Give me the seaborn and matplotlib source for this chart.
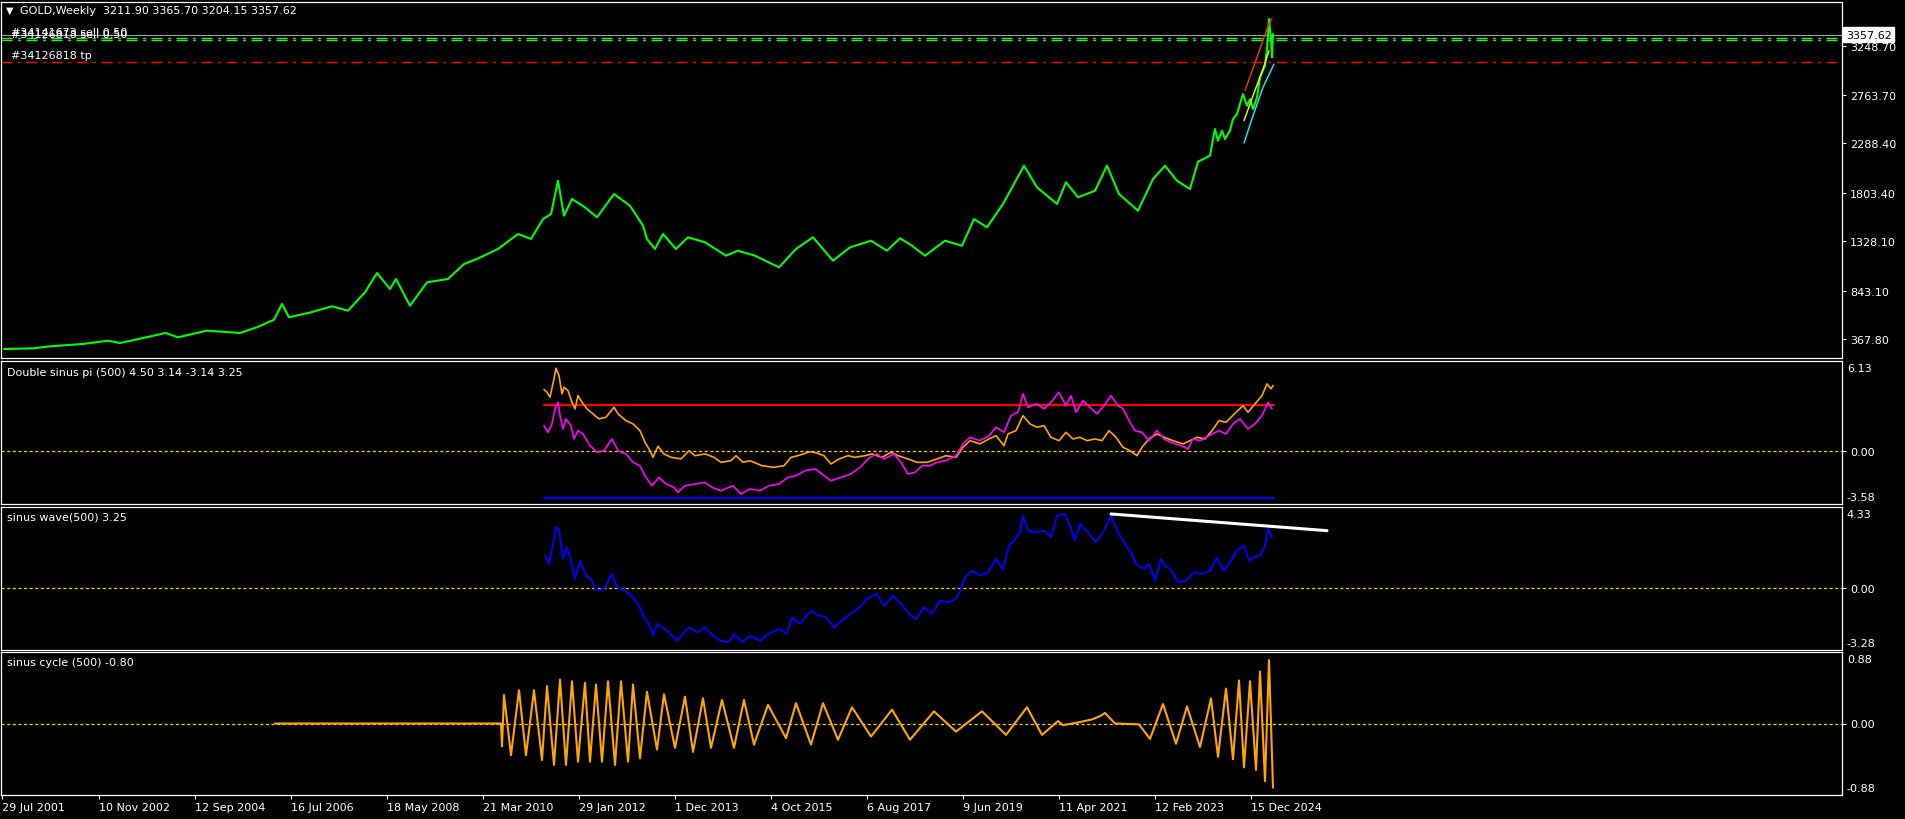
import matplotlib
matplotlib.use("Agg")
import matplotlib.pyplot as plt
import seaborn as sns
from matplotlib.transforms import blended_transform_factory

W, H = 1905, 820

# ---------------- data (bar index -> value) ----------------
price_idx = [2, 31, 48, 81, 106, 118, 164, 176, 205, 238, 255, 272, 280, 287, 309, 330, 346, 363, 375, 388,
             394, 408, 425, 446, 462, 475, 496, 516, 529, 541, 549, 556, 562, 570, 583, 595, 612, 628, 641, 645,
             653, 661, 674, 686, 703, 724, 736, 753, 777, 794, 811, 831, 848, 869, 885, 898, 910, 923, 943, 960,
             972, 985, 1001, 1022, 1035, 1055, 1064, 1076, 1093, 1105, 1117, 1136, 1151, 1163, 1175, 1188, 1196,
             1208, 1211, 1213, 1216, 1220, 1223, 1228, 1231, 1235, 1238, 1241, 1245, 1248, 1251, 1255, 1258, 1263,
             1265, 1267, 1269, 1270, 1271]
price_val = [270, 276, 296, 319, 351, 328, 427, 384, 450, 427, 483, 557, 712, 581, 630, 689, 646, 826, 1016, 859,
             957, 695, 925, 957, 1104, 1154, 1252, 1399, 1350, 1546, 1595, 1922, 1579, 1743, 1661, 1563, 1792, 1677, 1481, 1350,
             1252, 1399, 1252, 1367, 1318, 1186, 1235, 1186, 1072, 1252, 1367, 1137, 1268, 1333, 1235, 1357, 1284, 1186, 1333, 1284,
             1546, 1465, 1694, 2070, 1858, 1694, 1907, 1760, 1824, 2070, 1792, 1628, 1939, 2070, 1922, 1841, 2110,
             2168, 2332, 2430, 2315, 2414, 2332, 2414, 2529, 2578, 2676, 2774, 2659, 2725, 2627, 2741, 2938, 3052,
             3216, 3511, 3314, 3134, 3363]

red_trend_idx = [1243, 1255, 1265, 1270]
red_trend_val = [2807, 3135, 3413, 3518]
yel_trend_idx = [1242, 1251, 1261, 1267]
yel_trend_val = [2512, 2757, 3020, 3199]
cyan_trend_idx = [1242, 1251, 1261, 1272]
cyan_trend_val = [2293, 2561, 2840, 3069]

last_price = 3357.62
order_levels_sell = [3327, 3301]
order_level_tp = 3088

orange_idx = [542, 545, 548, 552, 554, 557, 560, 562, 566, 570, 573, 576, 580, 585, 593, 597, 604, 612, 616, 624,
              631, 638, 643, 648, 651, 656, 662, 669, 679, 687, 693, 703, 712, 719, 729, 734, 741, 748, 760, 772,
              782, 789, 796, 808, 815, 822, 829, 837, 846, 853, 863, 870, 880, 889, 896, 906, 915, 925, 935, 944,
              954, 961, 968, 978, 987, 994, 1002, 1006, 1014, 1021, 1028, 1035, 1042, 1049, 1057, 1064, 1071, 1078,
              1085, 1093, 1100, 1107, 1114, 1121, 1128, 1135, 1140, 1147, 1155, 1162, 1171, 1181, 1188, 1195, 1203,
              1210, 1217, 1224, 1234, 1241, 1246, 1253, 1260, 1265, 1269, 1271]
orange_val = [4.19, 4.01, 3.67, 4.92, 5.64, 5.14, 3.90, 4.35, 4.12, 3.33, 2.88, 3.78, 3.33, 2.88, 2.42, 2.20, 2.31, 2.99, 2.54, 2.08,
              1.86, 1.40, 0.61, 0.04, -0.41, 0.34, -0.18, -0.41, -0.52, 0.04, -0.30, -0.18, -0.41, -0.75, -0.64, -0.30, -0.75, -0.64, -0.98, -1.09,
              -0.98, -0.41, -0.30, -0.03, -0.12, -0.30, -0.86, -0.52, -0.30, -0.41, -0.30, -0.18, -0.41, -0.07, -0.30, -0.52, -0.75, -0.75, -0.52, -0.30,
              -0.41, 0.27, 0.72, 0.50, 0.84, 1.06, 0.38, 1.18, 1.40, 2.42, 1.86, 1.63, 1.74, 0.95, 0.72, 1.29, 0.84, 0.95,
              0.72, 0.84, 0.72, 1.40, 0.95, 0.27, 0.04, -0.30, 0.27, 0.84, 1.18, 0.95, 0.72, 0.50, 0.72, 0.95, 0.84,
              1.40, 2.08, 1.97, 2.65, 3.10, 2.65, 3.22, 3.78, 4.58, 4.24, 4.46]

magenta_idx = [542, 546, 550, 553, 556, 558, 561, 564, 569, 572, 576, 581, 588, 595, 602, 610, 616, 624, 631, 638,
               643, 650, 657, 664, 672, 676, 683, 693, 703, 710, 719, 731, 739, 748, 758, 767, 777, 786, 794, 803,
               813, 820, 829, 839, 849, 858, 868, 875, 882, 892, 899, 906, 913, 920, 928, 935, 944, 954, 961, 968,
               978, 987, 994, 1002, 1009, 1016, 1021, 1026, 1035, 1042, 1049, 1057, 1064, 1069, 1074, 1081, 1088,
               1095, 1102, 1109, 1116, 1121, 1128, 1133, 1140, 1147, 1155, 1162, 1169, 1179, 1186, 1191, 1198, 1207,
               1217, 1224, 1231, 1238, 1246, 1253, 1260, 1266, 1270]
magenta_val = [1.74, 1.29, 1.86, 2.88, 3.33, 2.42, 1.52, 2.20, 1.74, 0.84, 1.40, 1.18, 0.38, -0.07, 0.04, 0.84, 0.04, -0.18, -0.75, -0.98,
               -1.66, -2.34, -1.77, -2.22, -2.45, -2.79, -2.34, -2.22, -2.11, -2.45, -2.68, -2.34, -2.90, -2.56, -2.68, -2.34, -2.22, -1.77, -1.66, -1.32,
               -1.20, -1.54, -2.00, -1.77, -1.54, -1.09, -0.41, -0.18, -0.52, -0.18, -0.75, -1.54, -1.43, -0.98, -0.98, -0.75, -0.64, -0.30, 0.50, 0.95,
               0.72, 1.06, 1.63, 1.29, 2.42, 2.65, 3.90, 2.99, 3.22, 2.88, 3.33, 4.01, 3.10, 3.78, 2.65, 3.44, 2.99,
               2.54, 3.10, 3.78, 3.10, 2.88, 1.97, 1.40, 1.29, 0.72, 1.40, 0.84, 0.61, 0.38, 0.16, 0.84, 0.72, 1.06,
               1.40, 1.18, 1.86, 2.20, 1.52, 1.86, 2.42, 3.33, 2.88]

level_upper = 3.14
level_lower = -3.14
level_span = [542, 1272]

wave_idx = [543, 547, 550, 554, 557, 561, 565, 569, 573, 578, 584, 589, 594, 602, 610, 615, 623, 631, 637, 642,
            647, 651, 655, 660, 667, 675, 682, 687, 695, 703, 711, 718, 727, 732, 740, 748, 758, 766, 777, 785,
            790, 798, 809, 817, 824, 832, 840, 848, 856, 867, 875, 882, 891, 899, 907, 914, 922, 930, 938, 946,
            954, 959, 963, 970, 978, 986, 994, 1001, 1007, 1012, 1018, 1021, 1026, 1034, 1042, 1049, 1055, 1063,
            1068, 1073, 1078, 1086, 1094, 1102, 1109, 1116, 1124, 1129, 1134, 1142, 1147, 1153, 1159, 1163, 1170,
            1176, 1184, 1192, 1200, 1208, 1215, 1222, 1229, 1235, 1242, 1247, 1252, 1258, 1263, 1266, 1270]
wave_val = [1.74, 1.30, 2.10, 3.25, 3.16, 1.56, 2.19, 1.47, 0.50, 1.47, 0.68, 0.50, -0.12, -0.03, 0.77, 0.06, -0.12, -0.47, -0.92, -1.54,
            -1.89, -2.52, -1.89, -2.07, -2.34, -2.78, -2.34, -2.07, -2.34, -2.07, -2.52, -2.78, -2.87, -2.43, -2.87, -2.52, -2.78, -2.43, -2.16, -2.43,
            -1.54, -1.89, -1.19, -1.45, -1.54, -2.07, -1.72, -1.36, -1.10, -0.47, -0.30, -0.92, -0.39, -0.83, -1.36, -1.63, -1.01, -1.36, -0.65, -0.74,
            -0.56, -0.03, 0.59, 0.94, 0.68, 0.86, 1.56, 1.03, 2.27, 2.54, 2.98, 3.87, 3.07, 2.98, 3.07, 2.72, 3.87, 3.96,
            3.34, 2.54, 3.43, 2.98, 2.45, 3.07, 3.87, 2.98, 2.27, 1.92, 1.30, 1.03, 1.30, 0.41, 1.56, 1.21, 0.94,
            0.32, 0.41, 0.86, 0.77, 0.94, 1.65, 0.94, 1.47, 2.01, 2.27, 1.47, 1.65, 1.74, 2.27, 3.16, 2.72]

wave_trend_idx = [1109, 1325]
wave_trend_val = [3.96, 3.07]

cycle_idx = [273, 499, 500, 502, 509, 517, 524, 532, 540, 545, 552, 558, 564, 570, 576, 583, 588, 594, 600, 606,
             613, 619, 626, 631, 638, 645, 655, 662, 673, 683, 691, 701, 709, 720, 732, 742, 752, 766, 784, 794,
             809, 821, 836, 850, 869, 890, 908, 932, 954, 980, 1004, 1025, 1040, 1056, 1061, 1075, 1090, 1098,
             1103, 1113, 1137, 1148, 1161, 1174, 1185, 1198, 1209, 1216, 1224, 1231, 1237, 1242, 1248, 1254,
             1258, 1263, 1267, 1271]
cycle_val = [0.0, 0.0, -0.28, 0.35, -0.39, 0.41, -0.39, 0.41, -0.45, 0.46, -0.51, 0.54, -0.51, 0.52, -0.47, 0.50, -0.47, 0.48, -0.47, 0.52,
             -0.51, 0.52, -0.47, 0.48, -0.43, 0.39, -0.32, 0.36, -0.30, 0.33, -0.35, 0.31, -0.30, 0.29, -0.30, 0.29, -0.26, 0.23, -0.18, 0.25,
             -0.26, 0.25, -0.20, 0.20, -0.16, 0.17, -0.20, 0.15, -0.10, 0.15, -0.14, 0.20, -0.14, 0.03, -0.02, 0.01, 0.05, 0.09,
             0.13, 0.0, -0.01, -0.19, 0.24, -0.25, 0.21, -0.29, 0.31, -0.41, 0.43, -0.44, 0.53, -0.54, 0.52, -0.57,
             0.64, -0.71, 0.78, -0.79]

date_tick_idx = [0, 97, 193, 289, 385, 481, 577, 673, 769, 865, 961, 1057, 1153, 1249]
date_tick_labels = ["29 Jul 2001", "10 Nov 2002", "12 Sep 2004", "16 Jul 2006", "18 May 2008", "21 Mar 2010",
                    "29 Jan 2012", "1 Dec 2013", "4 Oct 2015", "6 Aug 2017", "9 Jun 2019", "11 Apr 2021",
                    "12 Feb 2023", "15 Dec 2024"]
price_ticks = [367.80, 843.10, 1328.10, 1803.40, 2288.40, 2763.70, 3248.70]

panel_ranges = {"main": (178.2, 3681.0), "dsp": (-3.58, 6.13), "wave": (-3.28, 4.33), "cycle": (-0.88, 0.88)}

# ---------------- style ----------------
sns.set_style("dark", {"axes.facecolor": "black", "figure.facecolor": "black"})
plt.rcParams["font.family"] = ["DejaVu Sans"]

fig = plt.figure(figsize=(W / 100, H / 100), dpi=100, facecolor="black")
XMIN, XMAX = -1, 1839.7


def px_axes(top, bottom, left=1.0, right=1841.7):
    return fig.add_axes([left / W, 1 - bottom / H, (right - left) / W, (bottom - top) / H])


def ftext(x, y, s, **kw):
    kw.setdefault("color", "white")
    kw.setdefault("fontsize", 8)
    kw.setdefault("va", "center")
    kw.setdefault("ha", "left")
    fig.text(x / W, 1 - y / H, s, **kw)


ax1 = px_axes(2.7, 359.3)
ax2 = px_axes(362, 505)
ax3 = px_axes(508, 651)
ax4 = px_axes(653, 796)
axes = [ax1, ax2, ax3, ax4]

ZERO_COLOR = "#FFCC00"
DASHDOT = (0, (8, 4, 2, 4))

# main chart
ax1.axhline(last_price, color="#A0A0A0", linewidth=0.8)
for lv in order_levels_sell:
    ax1.axhline(lv, color="#22EE22", linewidth=1.0, linestyle=DASHDOT)
ax1.axhline(order_level_tp, color="#FF0000", linewidth=1.0, linestyle=DASHDOT)
sns.lineplot(x=price_idx, y=price_val, ax=ax1, color="#00FF00", linewidth=1.5, estimator=None, sort=False)
sns.lineplot(x=red_trend_idx, y=red_trend_val, ax=ax1, color="#FF3300", linewidth=1.0, estimator=None)
sns.lineplot(x=yel_trend_idx, y=yel_trend_val, ax=ax1, color="#FFFF00", linewidth=1.0, estimator=None)
sns.lineplot(x=cyan_trend_idx, y=cyan_trend_val, ax=ax1, color="#00FFFF", linewidth=1.0, estimator=None)

# double sinus pi
ax2.axhline(0, color=ZERO_COLOR, linewidth=0.9, linestyle=(0, (2.5, 2)))
sns.lineplot(x=level_span, y=[level_upper, level_upper], ax=ax2, color="#FF0000", linewidth=1.6, estimator=None)
sns.lineplot(x=level_span, y=[level_lower, level_lower], ax=ax2, color="#0000FF", linewidth=1.6, estimator=None)
sns.lineplot(x=orange_idx, y=orange_val, ax=ax2, color="#FFA500", linewidth=1.2, estimator=None, sort=False)
sns.lineplot(x=magenta_idx, y=magenta_val, ax=ax2, color="#FF00FF", linewidth=1.2, estimator=None, sort=False)

# sinus wave
ax3.axhline(0, color=ZERO_COLOR, linewidth=0.9, linestyle=(0, (2.5, 2)))
sns.lineplot(x=wave_idx, y=wave_val, ax=ax3, color="#0000FF", linewidth=1.4, estimator=None, sort=False)
sns.lineplot(x=wave_trend_idx, y=wave_trend_val, ax=ax3, color="white", linewidth=2.2, estimator=None)

# sinus cycle
ax4.axhline(0, color=ZERO_COLOR, linewidth=0.9, linestyle=(0, (2.5, 2)))
sns.lineplot(x=cycle_idx, y=cycle_val, ax=ax4, color="#FFA500", linewidth=1.5, estimator=None, sort=False)

for ax, key in zip(axes, ["main", "dsp", "wave", "cycle"]):
    ax.set_facecolor("black")
    ax.grid(False)
    ax.set_xlim(XMIN, XMAX)
    ax.set_ylim(*panel_ranges[key])
    ax.set_xlabel("")
    ax.set_ylabel("")
    for s in ax.spines.values():
        s.set_visible(True)
        s.set_color("white")
        s.set_linewidth(0.9)
    ax.yaxis.tick_right()
    ax.tick_params(axis="y", left=False, right=True, labelleft=False, labelright=True,
                   colors="white", labelcolor="white", length=3, width=0.8, pad=3, labelsize=8)
    ax.tick_params(axis="x", bottom=False, labelbottom=False, top=False)

ax1.set_yticks(price_ticks)
ax1.set_yticklabels([f"{v:.2f}" for v in price_ticks])

pad_ax = 6 / (1841.7 - 1.0)
for ax, key in zip([ax2, ax3, ax4], ["dsp", "wave", "cycle"]):
    lo, hi = panel_ranges[key]
    ax.set_yticks([0])
    ax.set_yticklabels(["0.00"])
    tr = ax.transAxes
    ax.text(1 + pad_ax - 0.0005, 0.985, f"{hi:.2f}", transform=tr, color="white", fontsize=8,
            ha="left", va="top", clip_on=False)
    ax.text(1 + pad_ax - 0.0005, 0.015, f"{lo:.2f}", transform=tr, color="white", fontsize=8,
            ha="left", va="bottom", clip_on=False)

# price box
btr = blended_transform_factory(ax1.transAxes, ax1.transData)
ax1.text(1 + 4 / 1840.7, last_price, f"{last_price:.2f}", transform=btr, color="black", fontsize=8,
         ha="left", va="center", clip_on=False, zorder=10,
         bbox=dict(boxstyle="square,pad=0.2", facecolor="white", edgecolor="white"))

# date axis
ax4.set_xticks(date_tick_idx)
ax4.set_xticklabels(date_tick_labels, ha="left")
ax4.tick_params(axis="x", bottom=True, labelbottom=True, colors="white", labelcolor="white",
                length=3, width=0.8, pad=2, labelsize=8)

# texts
ftext(6, 11, "\u25BC", fontsize=7)
ftext(20, 11, "GOLD,Weekly  3211.90 3365.70 3204.15 3357.62")
ftext(11, 33, "#34141673 sell 0.50")
ftext(11, 35, "#34126818 sell 0.50")
ftext(11, 56, "#34126818 tp")
ftext(7, 373, "Double sinus pi (500) 4.50 3.14 -3.14 3.25")
ftext(7, 518, "sinus wave(500) 3.25")
ftext(7, 663, "sinus cycle (500) -0.80")

fig.savefig("out.png", dpi=100, facecolor="black")
